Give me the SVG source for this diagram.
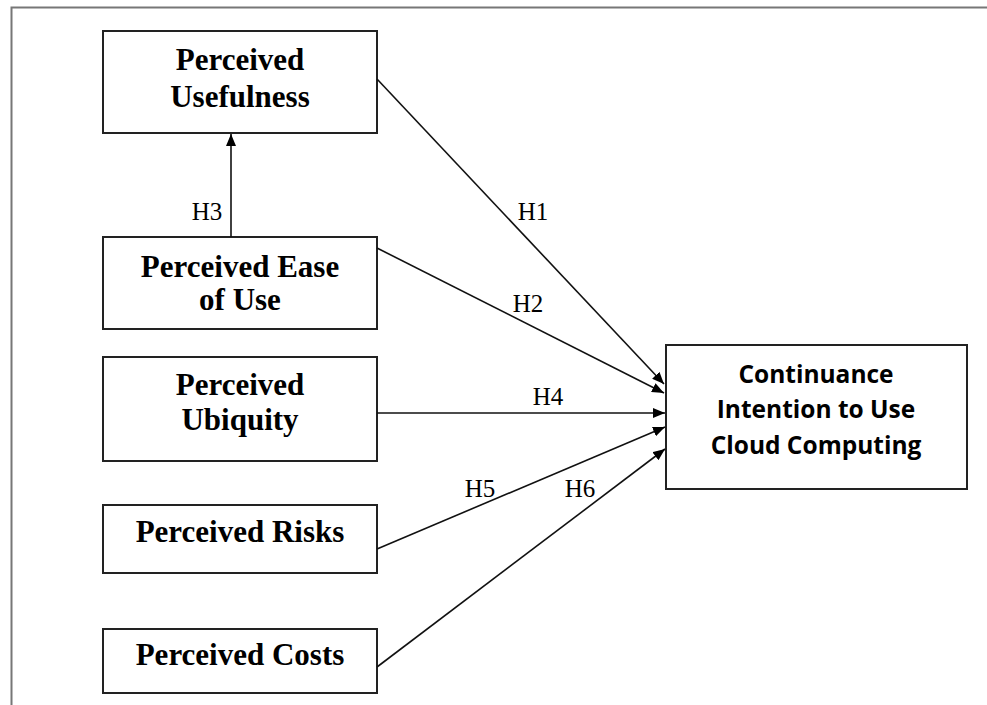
<svg xmlns="http://www.w3.org/2000/svg" width="987" height="705" viewBox="0 0 987 705">
<style>
.box{fill:#fff;stroke:#222;stroke-width:2}
.t{font-family:"Liberation Serif","Times New Roman",serif;font-weight:bold;font-size:31px;fill:#000;text-anchor:middle}
.c{font-family:"Open Sans","Noto Sans",sans-serif;font-weight:bold;font-size:24.5px;fill:#000;text-anchor:middle}
.h{font-family:"Liberation Serif","Times New Roman",serif;font-size:25px;fill:#000;text-anchor:middle}
.e{stroke:#111;stroke-width:1.6;fill:none;marker-end:url(#ah)}
</style>
<defs>
<marker id="ah" viewBox="0 0 12 10" refX="12" refY="5" markerWidth="12" markerHeight="10" markerUnits="userSpaceOnUse" orient="auto">
<path d="M0,0 L12,5 L0,10 z" fill="#000"/>
</marker>
</defs>
<rect width="987" height="705" fill="#fff"/>
<path d="M11.5,705 V7.5 H987" stroke="#777" stroke-width="2" fill="none"/>
<g id="pu"><rect class="box" x="103" y="31" width="274" height="102"/><text class="t" x="240" y="70">Perceived</text><text class="t" x="240" y="107">Usefulness</text></g>
<g id="peou"><rect class="box" x="103" y="237" width="274" height="92"/><text class="t" x="240" y="277">Perceived Ease</text><text class="t" x="240" y="310">of Use</text></g>
<g id="pubi"><rect class="box" x="103" y="357" width="274" height="104"/><text class="t" x="240" y="395">Perceived</text><text class="t" x="240" y="430">Ubiquity</text></g>
<g id="pr"><rect class="box" x="103" y="505" width="274" height="68"/><text class="t" x="240" y="542">Perceived Risks</text></g>
<g id="pc"><rect class="box" x="103" y="629" width="274" height="64"/><text class="t" x="240" y="665">Perceived Costs</text></g>
<g id="ci"><rect class="box" x="666" y="345" width="301" height="144"/><text class="c" x="816" y="383">Continuance</text><text class="c" x="816" y="418">Intention to Use</text><text class="c" x="816" y="454">Cloud Computing</text></g>
<g id="edges">
<line class="e" x1="231" y1="237" x2="231" y2="134"/>
<line class="e" x1="377" y1="79" x2="664" y2="384"/>
<line class="e" x1="377" y1="248" x2="664" y2="393"/>
<line class="e" x1="377" y1="413" x2="665" y2="413"/>
<line class="e" x1="377" y1="549" x2="665" y2="427"/>
<line class="e" x1="377" y1="667" x2="665" y2="449"/>
<text class="h" x="207" y="220">H3</text>
<text class="h" x="533" y="220">H1</text>
<text class="h" x="528" y="312">H2</text>
<text class="h" x="548" y="405">H4</text>
<text class="h" x="480" y="497">H5</text>
<text class="h" x="580" y="497">H6</text>
</g>
</svg>
